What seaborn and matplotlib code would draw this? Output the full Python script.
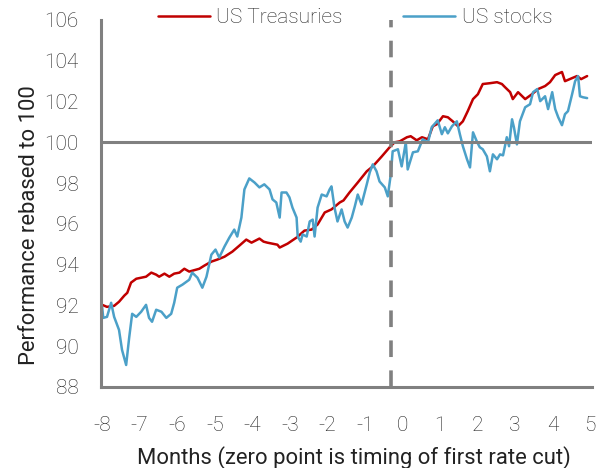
import numpy as np
import pandas as pd
import matplotlib
matplotlib.use("Agg")
import matplotlib.pyplot as plt
import seaborn as sns

# months relative to first rate cut, performance rebased to 100
treas_x = [-8.00, -7.87, -7.68, -7.55, -7.41, -7.33, -7.23, -7.09, -6.96, -6.83,
           -6.69, -6.56, -6.48, -6.34, -6.21, -6.08, -5.94, -5.81, -5.68, -5.41,
           -5.28, -5.09, -4.93, -4.74, -4.53, -4.34, -4.16, -4.02, -3.81, -3.70,
           -3.60, -3.33, -3.27, -3.06, -2.82, -2.61, -2.42, -2.26, -2.07, -1.89,
           -1.67, -1.57, -1.41, -1.19, -0.95, -0.79, -0.55, -0.34, -0.21, -0.07,
           0.12, 0.22, 0.38, 0.52, 0.68, 0.81, 0.92, 1.08, 1.21, 1.34,
           1.48, 1.61, 1.74, 1.88, 2.01, 2.14, 2.33, 2.52, 2.65, 2.73,
           2.87, 2.94, 3.08, 3.27, 3.45, 3.61, 3.80, 3.93, 4.07, 4.25,
           4.33, 4.52, 4.65, 4.76, 4.92]
treas_y = [92.03, 91.93, 91.98, 92.18, 92.48, 92.62, 93.12, 93.31, 93.36, 93.41,
           93.61, 93.51, 93.41, 93.56, 93.41, 93.56, 93.61, 93.80, 93.66, 93.80,
           93.95, 94.15, 94.25, 94.39, 94.64, 94.94, 95.23, 95.08, 95.28, 95.13,
           95.08, 94.98, 94.84, 95.03, 95.33, 95.67, 95.72, 95.97, 96.56, 96.71,
           97.05, 97.15, 97.54, 98.03, 98.58, 98.82, 99.31, 99.76, 100.00, 100.05,
           100.25, 100.30, 100.10, 100.25, 100.15, 100.79, 100.89, 101.28, 101.23, 101.03,
           100.79, 101.03, 101.53, 102.12, 102.36, 102.86, 102.90, 102.95, 102.86, 102.71,
           102.46, 102.12, 102.46, 102.12, 102.36, 102.61, 102.76, 102.95, 103.30, 103.45,
           103.00, 103.15, 103.25, 103.10, 103.25]

stocks_x = [-8.00, -7.97, -7.87, -7.76, -7.68, -7.55, -7.47, -7.36, -7.28, -7.20,
            -7.09, -6.96, -6.83, -6.75, -6.67, -6.56, -6.42, -6.29, -6.16, -6.08,
            -6.00, -5.86, -5.68, -5.60, -5.46, -5.33, -5.22, -5.09, -4.98, -4.88,
            -4.74, -4.61, -4.48, -4.40, -4.29, -4.21, -4.08, -3.94, -3.81, -3.68,
            -3.54, -3.46, -3.36, -3.27, -3.22, -3.09, -3.01, -2.93, -2.82, -2.79,
            -2.71, -2.66, -2.55, -2.47, -2.39, -2.34, -2.26, -2.15, -2.02, -1.94,
            -1.89, -1.81, -1.73, -1.62, -1.54, -1.46, -1.35, -1.27, -1.19, -1.09,
            -0.95, -0.87, -0.79, -0.69, -0.61, -0.47, -0.39, -0.31, -0.26, -0.12,
            -0.02, 0.09, 0.14, 0.28, 0.41, 0.54, 0.68, 0.78, 0.94, 1.05,
            1.13, 1.21, 1.32, 1.45, 1.53, 1.61, 1.72, 1.80, 1.88, 1.98,
            2.06, 2.14, 2.25, 2.33, 2.41, 2.52, 2.60, 2.68, 2.78, 2.84,
            2.92, 2.97, 3.05, 3.13, 3.27, 3.40, 3.48, 3.59, 3.67, 3.80,
            3.88, 3.99, 4.07, 4.15, 4.25, 4.33, 4.41, 4.52, 4.60, 4.68,
            4.73, 4.81, 4.92]
stocks_y = [91.93, 91.39, 91.44, 92.13, 91.44, 90.80, 89.82, 89.08, 90.41, 91.59,
            91.44, 91.69, 92.03, 91.39, 91.20, 91.79, 91.69, 91.39, 91.59, 92.13,
            92.87, 93.02, 93.26, 93.61, 93.36, 92.87, 93.41, 94.49, 94.74, 94.35,
            94.89, 95.33, 95.72, 95.38, 96.31, 97.69, 98.23, 98.03, 97.79, 97.94,
            97.69, 97.20, 97.05, 96.31, 97.54, 97.54, 97.30, 96.80, 96.31, 95.38,
            95.13, 95.48, 95.38, 96.12, 96.21, 95.38, 96.80, 97.44, 97.35, 97.69,
            97.84, 96.80, 96.12, 96.71, 96.12, 95.82, 96.31, 96.85, 97.44, 96.95,
            97.94, 98.53, 98.92, 98.58, 98.08, 97.79, 97.35, 98.43, 99.56, 99.66,
            98.82, 100.00, 98.67, 99.51, 99.56, 100.15, 100.00, 100.74, 101.08, 100.40,
            100.74, 100.44, 100.79, 101.03, 100.40, 99.81, 99.17, 98.77, 100.49, 100.05,
            99.76, 99.66, 99.31, 98.58, 99.41, 99.17, 99.41, 99.36, 100.25, 99.81,
            101.13, 100.74, 99.90, 101.03, 101.72, 101.87, 102.46, 102.61, 102.02, 102.26,
            101.63, 102.46, 101.63, 101.23, 100.84, 101.38, 101.53, 102.36, 103.00, 103.25,
            102.26, 102.21, 102.17]

x_ticks = list(range(-8, 6))
y_ticks = list(range(88, 107, 2))
cut_month = -0.3

sns.set_style("white")
plt.rcParams['font.family'] = ['Roboto', 'DejaVu Sans']
plt.rcParams['font.weight'] = 'light'

red = '#C00000'
blue = '#4BA0C8'
grey = '#808080'
txt = '#222222'

fig = plt.figure(figsize=(6.09, 4.68), dpi=100)
ax = fig.add_axes([101 / 609, 1 - 387 / 468, 491 / 609, 367 / 468])

sns.lineplot(x=treas_x, y=treas_y, ax=ax, color=red, lw=1.8, label='US Treasuries')
sns.lineplot(x=stocks_x, y=stocks_y, ax=ax, color=blue, lw=1.8, label='US stocks')

ax.axhline(100, color=grey, lw=2.2, zorder=5)
ax.axvline(cut_month, color=grey, lw=2.6, dashes=(4.6, 3.7), zorder=5)

ax.set_xlim(-8.03, 5.05)
ax.set_ylim(88, 106)
ax.set_xticks(x_ticks)
ax.set_xticklabels([str(v) for v in x_ticks])
ax.set_yticks(y_ticks)
ax.tick_params(axis='both', length=0, labelsize=15, colors=txt)
ax.tick_params(axis='x', pad=21)
ax.tick_params(axis='y', pad=16)

for s in ['top', 'right']:
    ax.spines[s].set_visible(False)
for s in ['left', 'bottom']:
    ax.spines[s].set_color(grey)
    ax.spines[s].set_linewidth(2.2)

ax.set_xlabel('Months (zero point is timing of first rate cut)', fontsize=15.8, color=txt)
ax.xaxis.set_label_coords(0.516, -0.16)
ax.set_ylabel('Performance rebased to 100', fontsize=15.8, color=txt)
ax.yaxis.set_label_coords(-0.125, 0.44)

ax.legend(loc='center', bbox_to_anchor=(0.583, 0.963), bbox_transform=fig.transFigure,
          ncol=2, frameon=False, fontsize=15, handlelength=2.5, handletextpad=0.3,
          columnspacing=2.9)

fig.savefig('out.png', dpi=100)
